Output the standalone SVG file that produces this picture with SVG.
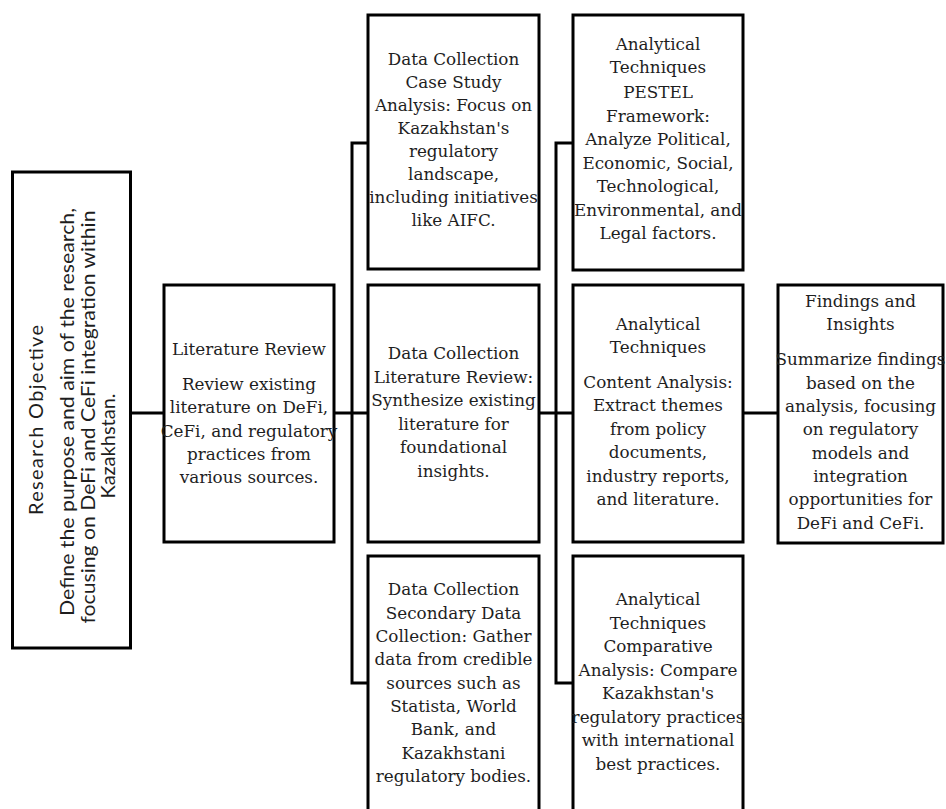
<svg xmlns="http://www.w3.org/2000/svg" width="946" height="809" viewBox="0 0 946 809">
<style>
.box{fill:#fff;stroke:#000;stroke-width:3}
.ln{fill:none;stroke:#000;stroke-width:3}
.t{font-family:"DejaVu Serif","Liberation Serif",serif;font-size:16.8px;fill:#1e1e1e;text-anchor:middle}
.s{font-family:Lato,"Open Sans","Liberation Sans",sans-serif;font-size:20px;fill:#1e1e1e;text-anchor:middle}
</style>
<rect width="946" height="809" fill="#fff"/>
<g id="connectors">
<line class="ln" x1="131" y1="413" x2="164" y2="413"/>
<line class="ln" x1="334" y1="413" x2="368" y2="413"/>
<polyline class="ln" points="368,143 352,143 352,683 368,683"/>
<line class="ln" x1="539" y1="413" x2="573" y2="413"/>
<polyline class="ln" points="573,143 556,143 556,683 573,683"/>
<line class="ln" x1="743" y1="413" x2="778" y2="413"/>
</g>
<g id="research-objective">
<rect class="box" x="12.5" y="172" width="118" height="476"/>
<text class="s" transform="translate(43,420) rotate(-90)" textLength="190" lengthAdjust="spacing">Research Objective</text>
<text class="s" transform="translate(74,412) rotate(-90)" textLength="408" lengthAdjust="spacingAndGlyphs">Define the purpose and aim of the research,</text>
<text class="s" transform="translate(94.5,417) rotate(-90)" textLength="413" lengthAdjust="spacingAndGlyphs">focusing on DeFi and CeFi integration within</text>
<text class="s" transform="translate(115,446) rotate(-90)">Kazakhstan.</text>
</g>
<g id="literature-review">
<rect class="box" x="164" y="285" width="170" height="257"/>
<text class="t" x="249" y="355">Literature Review</text>
<text class="t" x="249" y="390">Review existing</text>
<text class="t" x="249" y="413">literature on DeFi,</text>
<text class="t" x="249" y="436.5">CeFi, and regulatory</text>
<text class="t" x="249" y="460">practices from</text>
<text class="t" x="249" y="483">various sources.</text>
</g>
<g id="dc-case-study">
<rect class="box" x="368" y="15" width="171" height="254"/>
<text class="t" x="453.5" y="65">Data Collection</text>
<text class="t" x="453.5" y="88">Case Study</text>
<text class="t" x="453.5" y="111">Analysis: Focus on</text>
<text class="t" x="453.5" y="134">Kazakhstan's</text>
<text class="t" x="453.5" y="157">regulatory</text>
<text class="t" x="453.5" y="180">landscape,</text>
<text class="t" x="453.5" y="203">including initiatives</text>
<text class="t" x="453.5" y="226">like AIFC.</text>
</g>
<g id="dc-literature">
<rect class="box" x="368" y="285" width="171" height="257"/>
<text class="t" x="453.5" y="359">Data Collection</text>
<text class="t" x="453.5" y="382.5">Literature Review:</text>
<text class="t" x="453.5" y="406">Synthesize existing</text>
<text class="t" x="453.5" y="429.5">literature for</text>
<text class="t" x="453.5" y="453">foundational</text>
<text class="t" x="453.5" y="476.5">insights.</text>
</g>
<g id="dc-secondary">
<rect class="box" x="368" y="556" width="171" height="270"/>
<text class="t" x="453.5" y="595">Data Collection</text>
<text class="t" x="453.5" y="618.5">Secondary Data</text>
<text class="t" x="453.5" y="642">Collection: Gather</text>
<text class="t" x="453.5" y="665">data from credible</text>
<text class="t" x="453.5" y="688.5">sources such as</text>
<text class="t" x="453.5" y="712">Statista, World</text>
<text class="t" x="453.5" y="735">Bank, and</text>
<text class="t" x="453.5" y="758.5">Kazakhstani</text>
<text class="t" x="453.5" y="782">regulatory bodies.</text>
</g>
<g id="at-pestel">
<rect class="box" x="573" y="15" width="170" height="255"/>
<text class="t" x="658" y="50">Analytical</text>
<text class="t" x="658" y="73">Techniques</text>
<text class="t" x="658" y="98">PESTEL</text>
<text class="t" x="658" y="122">Framework:</text>
<text class="t" x="658" y="145">Analyze Political,</text>
<text class="t" x="658" y="168.5">Economic, Social,</text>
<text class="t" x="658" y="192">Technological,</text>
<text class="t" x="658" y="215.5">Environmental, and</text>
<text class="t" x="658" y="239">Legal factors.</text>
</g>
<g id="at-content">
<rect class="box" x="573" y="285" width="170" height="257"/>
<text class="t" x="658" y="330">Analytical</text>
<text class="t" x="658" y="353">Techniques</text>
<text class="t" x="658" y="388">Content Analysis:</text>
<text class="t" x="658" y="411">Extract themes</text>
<text class="t" x="658" y="434.5">from policy</text>
<text class="t" x="658" y="458">documents,</text>
<text class="t" x="658" y="481.5">industry reports,</text>
<text class="t" x="658" y="505">and literature.</text>
</g>
<g id="at-comparative">
<rect class="box" x="573" y="556" width="170" height="270"/>
<text class="t" x="658" y="605">Analytical</text>
<text class="t" x="658" y="628.5">Techniques</text>
<text class="t" x="658" y="652">Comparative</text>
<text class="t" x="658" y="675.5">Analysis: Compare</text>
<text class="t" x="658" y="699">Kazakhstan's</text>
<text class="t" x="658" y="722.5">regulatory practices</text>
<text class="t" x="658" y="746">with international</text>
<text class="t" x="658" y="769.5">best practices.</text>
</g>
<g id="findings">
<rect class="box" x="778" y="285" width="165" height="258"/>
<text class="t" x="860.5" y="307">Findings and</text>
<text class="t" x="860.5" y="330">Insights</text>
<text class="t" x="860.5" y="365">Summarize findings</text>
<text class="t" x="860.5" y="388.5">based on the</text>
<text class="t" x="860.5" y="412">analysis, focusing</text>
<text class="t" x="860.5" y="435">on regulatory</text>
<text class="t" x="860.5" y="458.5">models and</text>
<text class="t" x="860.5" y="482">integration</text>
<text class="t" x="860.5" y="505">opportunities for</text>
<text class="t" x="860.5" y="528.5">DeFi and CeFi.</text>
</g>
</svg>
